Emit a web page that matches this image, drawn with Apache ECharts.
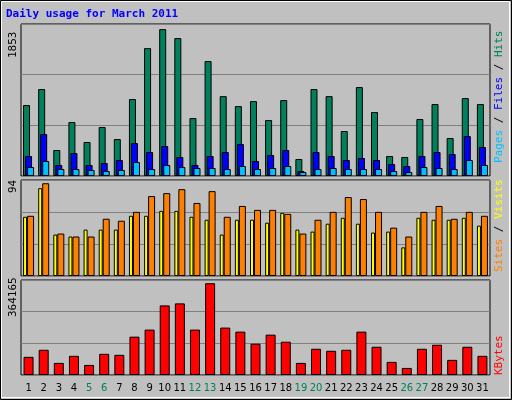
<!DOCTYPE html>
<html><head><meta charset="utf-8">
<script src="https://cdn.jsdelivr.net/npm/echarts@6/dist/echarts.min.js"></script>
<style>html,body{margin:0;padding:0;background:#c0c0c0;}#c{width:512px;height:400px;}</style>
</head><body><div id="c"></div>
<script>
const days = ['1','2','3','4','5','6','7','8','9','10','11','12','13','14','15','16','17','18','19','20','21','22','23','24','25','26','27','28','29','30','31'];
const weekend = ['5','6','12','13','19','20','26','27'];
const hits = [895,1097,328,681,429,618,466,971,1614,1853,1740,731,1450,1008,882,945,706,958,214,1097,1008,567,1122,807,252,240,719,908,479,983,908];
const files = [252,529,139,290,139,164,202,416,303,378,240,139,252,303,403,189,265,328,63,303,252,202,227,202,151,126,252,303,277,504,366];
const pages = [113,189,88,88,76,63,76,176,88,139,113,101,101,88,126,88,101,126,50,88,101,88,88,88,63,50,113,101,88,202,139];
const visits = [60,89,42,40,47,47,47,61,61,66,66,60,57,42,57,57,54,64,47,45,53,59,53,44,45,29,59,57,57,59,51];
const sites = [61,94,43,40,40,58,56,65,81,84,88,74,86,60,71,67,67,63,43,57,65,80,78,65,49,40,65,71,58,65,61];
const kbytes = [72036,100050,48024,76038,40020,84042,80040,152076,180090,276138,284142,180090,364165,188094,172086,124062,160080,132066,48024,104052,96048,100050,172086,112056,52026,28014,104052,120060,60030,112056,76038];
const maxHits = 1853, maxSites = 94, maxKB = 364165;

const chart = echarts.init(document.getElementById('c'));
const grids = [
  {left:21, top:24, width:469, height:152},
  {left:21, top:180, width:469, height:96},
  {left:21, top:280, width:469, height:95}
].map(g => Object.assign(g, {show:true, borderColor:'#000', borderWidth:1, backgroundColor:'#c0c0c0'}));
const xAx = i => ({type:'category', gridIndex:i, data:days, axisTick:{show:false}, axisLine:{show:false},
  axisLabel: i===2 ? {show:true, interval:0, margin:8, fontFamily:'DejaVu Sans', fontSize:10,
    formatter: v => weekend.includes(v) ? '{w|'+v+'}' : '{n|'+v+'}',
    rich:{w:{color:'#00805c',fontFamily:'DejaVu Sans',fontSize:10}, n:{color:'#000',fontFamily:'DejaVu Sans',fontSize:10}}} : {show:false}});
const yAx = (i, m, top) => ({type:'value', gridIndex:i, min:0, max:top, interval:top/3, axisLabel:{show:false},
  axisLine:{show:false}, axisTick:{show:false}, splitLine:{show:true, lineStyle:{color:'#808080', width:1}}});
const bs = {borderColor:'#000', borderWidth:1};
const txt = (t, x, y, color, rich) => ({type:'text', x, y, rotation:Math.PI/2,
  style:{text:t, fill:color, font:'11px "DejaVu Sans Mono"', rich:rich, align:'left', verticalAlign:'top'}});
chart.setOption({
  animation:false,
  grid:grids,
  xAxis:[xAx(0),xAx(1),xAx(2)],
  yAxis:[yAx(0,maxHits,maxHits*1.035),yAx(1,maxSites,maxSites*1.035),yAx(2,maxKB,maxKB*1.035)],
  series:[
    {type:'bar', xAxisIndex:0, yAxisIndex:0, data:hits, barWidth:7, barGap:'-71%', itemStyle:Object.assign({color:'#00805c'},bs)},
    {type:'bar', xAxisIndex:0, yAxisIndex:0, data:files, barWidth:7, barGap:'-71%', itemStyle:Object.assign({color:'#0000ff'},bs)},
    {type:'bar', xAxisIndex:0, yAxisIndex:0, data:pages, barWidth:7, barGap:'-71%', itemStyle:Object.assign({color:'#00c0ff'},bs)},
    {type:'bar', xAxisIndex:1, yAxisIndex:1, data:visits, barWidth:4, barGap:'0%', itemStyle:Object.assign({color:'#ffff00'},bs)},
    {type:'bar', xAxisIndex:1, yAxisIndex:1, data:sites, barWidth:7, barGap:'0%', itemStyle:Object.assign({color:'#ff8000'},bs)},
    {type:'bar', xAxisIndex:2, yAxisIndex:2, data:kbytes, barWidth:10, itemStyle:Object.assign({color:'#ff0000'},bs)}
  ],
  graphic:[
    {type:'rect', shape:{x:0.5,y:0.5,width:511,height:399}, style:{fill:null, stroke:'#000', lineWidth:1}},
    {type:'rect', shape:{x:1.5,y:1.5,width:508,height:396}, style:{fill:null, stroke:'#ffffff', lineWidth:1}},
    {type:'text', x:6, y:9, style:{text:'Daily usage for March 2011', fill:'#0000ff', font:'bold 11px "DejaVu Sans Mono"'}},
    txt(String(maxHits), 8, 58, '#000', null),
    txt(String(maxSites), 8, 193, '#000', null),
    txt(String(maxKB), 8, 317, '#000', null),
    txt('{p|Pages} / {f|Files} / {h|Hits}', 494, 163, '#000', {p:{fill:'#00c0ff'},f:{fill:'#0000ff'},h:{fill:'#00805c'}}),
    txt('{s|Sites} / {v|Visits}', 494, 272, '#000', {s:{fill:'#ff8000'},v:{fill:'#ffff00'}}),
    txt('KBytes', 494, 375, '#ff0000', null)
  ]
});
</script></body></html>
